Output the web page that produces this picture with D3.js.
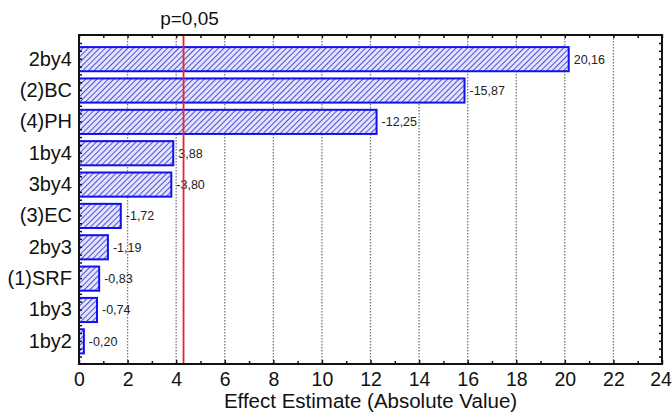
<!DOCTYPE html>
<html>
<head>
<meta charset="utf-8">
<script src="https://cdn.jsdelivr.net/npm/d3@7"></script>
<style>
  body { margin: 0; background: #fff; }
  svg { display: block; font-family: "Liberation Sans", Arial, sans-serif; }
  .grid line { stroke: #7a7a7a; stroke-dasharray: 1.5 1.5; stroke-width: 1.3; }
</style>
</head>
<body>
<div id="chart"></div>
<script>
const effects = ['2by4', '(2)BC', '(4)PH', '1by4', '3by4', '(3)EC', '2by3', '(1)SRF', '1by3', '1by2'];
const estimates = [20.16, -15.87, -12.25, 3.88, -3.80, -1.72, -1.19, -0.83, -0.74, -0.20];
const pCritical = 4.303;
const xTicks = [0, 2, 4, 6, 8, 10, 12, 14, 16, 18, 20, 22, 24];

const width = 672, height = 414;
const margin = { top: 35, right: 10, bottom: 50, left: 79 };
const plotBottom = height - margin.bottom; // 364
const plotRight = width - margin.right;    // 662
const fontFam = '"Liberation Sans", Arial, sans-serif';

const svg = d3.select('#chart').append('svg').attr('width', width).attr('height', height);

const x = d3.scaleLinear().domain([0, 24]).range([margin.left, plotRight]);
const y = d3.scaleBand().domain(effects).range([43.5, 357]).paddingInner(0.23).paddingOuter(0.115);

const defs = svg.append('defs');
const pat = defs.append('pattern')
  .attr('id', 'hatch')
  .attr('patternUnits', 'userSpaceOnUse')
  .attr('width', 4).attr('height', 4)
  .attr('patternTransform', 'rotate(45)');
pat.append('rect').attr('width', 4).attr('height', 4).attr('fill', '#e2e4ff');
pat.append('line').attr('x1', 0).attr('y1', 0).attr('x2', 0).attr('y2', 4)
  .attr('stroke', '#3838c8').attr('stroke-width', 1.7);

// vertical dotted grid
svg.append('g').attr('class', 'grid')
  .selectAll('line')
  .data(xTicks.filter((d) => d > 0 && d < 24))
  .join('line')
  .attr('x1', (d) => x(d)).attr('x2', (d) => x(d))
  .attr('y1', margin.top).attr('y2', plotBottom);

// bars
const rows = effects.map((e, i) => ({ effect: e, value: estimates[i] }));
svg.append('g')
  .selectAll('rect')
  .data(rows)
  .join('rect')
  .attr('x', x(0))
  .attr('y', (d) => y(d.effect))
  .attr('width', (d) => x(Math.abs(d.value)) - x(0))
  .attr('height', y.bandwidth())
  .attr('fill', 'url(#hatch)')
  .attr('stroke', '#1010f0')
  .attr('stroke-width', 2);

// value labels, comma decimals and plain hyphen
const fmtComma = (v) => d3.format('.2f')(v).replace('.', ',').replace('\u2212', '-');
svg.append('g')
  .selectAll('text')
  .data(rows)
  .join('text')
  .attr('x', (d) => x(Math.abs(d.value)) + 5)
  .attr('y', (d) => y(d.effect) + y.bandwidth() / 2)
  .attr('dy', '0.35em')
  .attr('font-size', 12.5)
  .attr('fill', '#222')
  .text((d) => fmtComma(d.value));

// critical line
svg.append('line')
  .attr('x1', x(pCritical)).attr('x2', x(pCritical))
  .attr('y1', margin.top).attr('y2', plotBottom)
  .attr('stroke', '#e8262a').attr('stroke-width', 1.8);
svg.append('text')
  .attr('x', x(pCritical) + 6).attr('y', 25)
  .attr('text-anchor', 'middle')
  .attr('font-size', 19)
  .attr('fill', '#111')
  .text('p=0,05');

// bottom axis
const minor = d3.range(1, 24, 2);
const bottomAxis = svg.append('g')
  .attr('transform', `translate(0,${plotBottom})`)
  .call(d3.axisBottom(x).tickValues(xTicks).tickSize(-4).tickPadding(8).tickFormat(d3.format('d')));
bottomAxis.select('.domain').remove();
bottomAxis.selectAll('text').attr('font-size', 19.5).attr('fill', '#111').attr('font-family', fontFam);
// keep the last label inside the window
bottomAxis.selectAll('text').filter((d) => d === 24).attr('dx', -1.5);
bottomAxis.selectAll('line').attr('stroke', '#111').attr('stroke-width', 1.5);
svg.append('g').attr('transform', `translate(0,${plotBottom})`)
  .call(d3.axisBottom(x).tickValues(minor).tickSize(-3).tickFormat(''))
  .call((g) => g.select('.domain').remove())
  .selectAll('line').attr('stroke', '#111').attr('stroke-width', 1.5);

// top axis ticks
svg.append('g').attr('transform', `translate(0,${margin.top})`)
  .call(d3.axisTop(x).tickValues(xTicks.concat(minor)).tickSize(-3).tickFormat(''))
  .call((g) => g.select('.domain').remove())
  .selectAll('line').attr('stroke', '#111').attr('stroke-width', 1.5);

// left axis labels
const leftAxis = svg.append('g')
  .attr('transform', `translate(${margin.left},0)`)
  .call(d3.axisLeft(y).tickSize(0).tickPadding(7));
leftAxis.select('.domain').remove();
leftAxis.selectAll('text').attr('font-size', 20).attr('fill', '#111').attr('font-family', fontFam);

// small inward ticks on left and right borders
const sideTicks = d3.range(0, 41).map((i) => 43.5 + i * (357 - 43.5) / 40);
svg.append('g').selectAll('line.lt')
  .data(sideTicks).join('line')
  .attr('x1', margin.left).attr('x2', margin.left + 3)
  .attr('y1', (d) => d).attr('y2', (d) => d)
  .attr('stroke', '#111').attr('stroke-width', 1.5);
svg.append('g').selectAll('line.rt')
  .data(sideTicks).join('line')
  .attr('x1', plotRight).attr('x2', plotRight - 3)
  .attr('y1', (d) => d).attr('y2', (d) => d)
  .attr('stroke', '#111').attr('stroke-width', 1.5);

// frame
svg.append('rect')
  .attr('x', margin.left).attr('y', margin.top)
  .attr('width', plotRight - margin.left).attr('height', plotBottom - margin.top)
  .attr('fill', 'none').attr('stroke', '#111').attr('stroke-width', 2);

svg.append('text')
  .attr('x', (margin.left + plotRight) / 2).attr('y', 408)
  .attr('text-anchor', 'middle')
  .attr('font-size', 20.5)
  .attr('fill', '#111')
  .text('Effect Estimate (Absolute Value)');
</script>
</body>
</html>
